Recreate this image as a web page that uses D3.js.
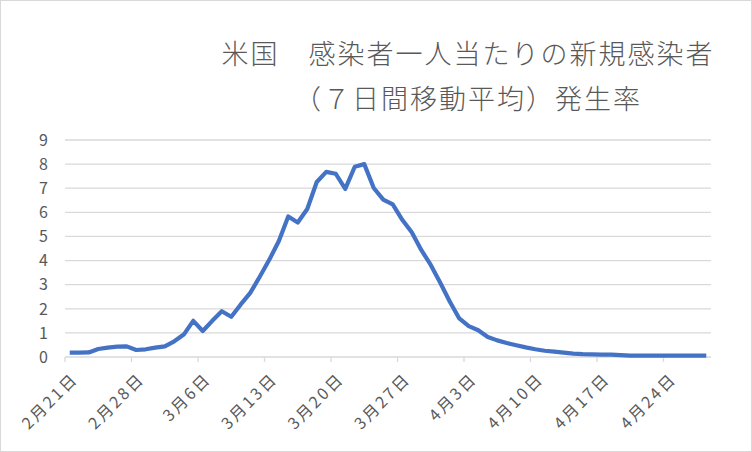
<!DOCTYPE html>
<html>
<head>
<meta charset="utf-8">
<script src="https://cdn.jsdelivr.net/npm/d3@7"></script>
<style>
  body { margin: 0; background: #fff; }
  text { font-family: "Noto Sans CJK JP", "Noto Sans", sans-serif; }
</style>
</head>
<body>
<svg id="chart"></svg>
<script>
const width = 752;
const height = 452;

// 2020-02-21 から 68 日分の7日間移動平均
const startDate = new Date(2020, 1, 21);
const values = [
  0.18, 0.18, 0.19, 0.33, 0.39, 0.43, 0.44, 0.29, 0.32, 0.39,
  0.44, 0.65, 0.93, 1.50, 1.08, 1.50, 1.90, 1.67, 2.18, 2.66,
  3.33, 4.03, 4.80, 5.83, 5.58, 6.14, 7.26, 7.68, 7.60, 6.97,
  7.89, 8.00, 7.01, 6.53, 6.33, 5.69, 5.17, 4.44, 3.82, 3.08,
  2.30, 1.60, 1.28, 1.11, 0.83, 0.69, 0.58, 0.49, 0.40, 0.32,
  0.26, 0.22, 0.18, 0.14, 0.12, 0.11, 0.10, 0.10, 0.08, 0.06,
  0.06, 0.06, 0.06, 0.06, 0.06, 0.06, 0.06, 0.06
];
const dates = values.map((v, i) => d3.timeDay.offset(startDate, i));
const yTicks = [0, 1, 2, 3, 4, 5, 6, 7, 8, 9];
const titleLines = ["米国　感染者一人当たりの新規感染者", "（７日間移動平均）発生率"];

const margin = {left: 65, right: 41, top: 140, bottom: 95};

const svg = d3.select("#chart")
    .attr("width", width)
    .attr("height", height);

// outer chart border
svg.append("rect")
    .attr("x", 0.5).attr("y", 0.5)
    .attr("width", width - 1).attr("height", height - 1)
    .attr("fill", "#fff")
    .attr("stroke", "#d9d9d9");

const x = d3.scaleBand()
    .domain(dates)
    .range([margin.left, width - margin.right])
    .padding(0);

const y = d3.scaleLinear()
    .domain([0, 9])
    .range([height - margin.bottom, margin.top]);

// gridlines
svg.append("g")
    .selectAll("line")
    .data(yTicks.filter(d => d > 0))
    .enter().append("line")
    .attr("x1", margin.left)
    .attr("x2", width - margin.right)
    .attr("y1", d => y(d))
    .attr("y2", d => y(d))
    .attr("stroke", "#d9d9d9")
    .attr("stroke-width", 1.3);

// y axis labels
svg.append("g")
    .selectAll("text")
    .data(yTicks)
    .enter().append("text")
    .attr("x", 48)
    .attr("y", d => y(d))
    .attr("dy", "0.36em")
    .attr("text-anchor", "end")
    .attr("font-size", 16)
    .attr("fill", "#595959")
    .text(d => d);

// x axis baseline and ticks
svg.append("line")
    .attr("x1", margin.left)
    .attr("x2", width - margin.right)
    .attr("y1", y(0))
    .attr("y2", y(0))
    .attr("stroke", "#d9d9d9")
    .attr("stroke-width", 1.3);

const tickDates = dates.filter((d, i) => i % 7 === 0);
const fmt = d3.timeFormat("%-m月%-d日");

svg.append("g")
    .selectAll("line")
    .data(tickDates)
    .enter().append("line")
    .attr("x1", d => x(d))
    .attr("x2", d => x(d))
    .attr("y1", y(0))
    .attr("y2", y(0) + 5)
    .attr("stroke", "#d9d9d9")
    .attr("stroke-width", 1.3);

svg.append("g")
    .selectAll("text")
    .data(tickDates)
    .enter().append("text")
    .attr("transform", d => `translate(${x(d) + 10},${y(0) + 19}) rotate(-45)`)
    .attr("text-anchor", "end")
    .attr("dy", "0.35em")
    .attr("font-size", 16)
    .attr("letter-spacing", 2.5)
    .attr("fill", "#595959")
    .text(d => fmt(d));

// the line
const line = d3.line()
    .x((d, i) => x(dates[i]) + x.bandwidth() / 2)
    .y(d => y(d));

svg.append("path")
    .datum(values)
    .attr("d", line)
    .attr("fill", "none")
    .attr("stroke", "#4472c4")
    .attr("stroke-width", 4.2)
    .attr("stroke-linejoin", "round");

// title
svg.append("g")
    .selectAll("text")
    .data(titleLines)
    .enter().append("text")
    .attr("x", 468)
    .attr("y", (d, i) => 64 + i * 45)
    .attr("text-anchor", "middle")
    .attr("font-size", 27)
    .attr("letter-spacing", 2)
    .attr("font-weight", 300)
    .attr("fill", "#595959")
    .text(d => d);
</script>
</body>
</html>
